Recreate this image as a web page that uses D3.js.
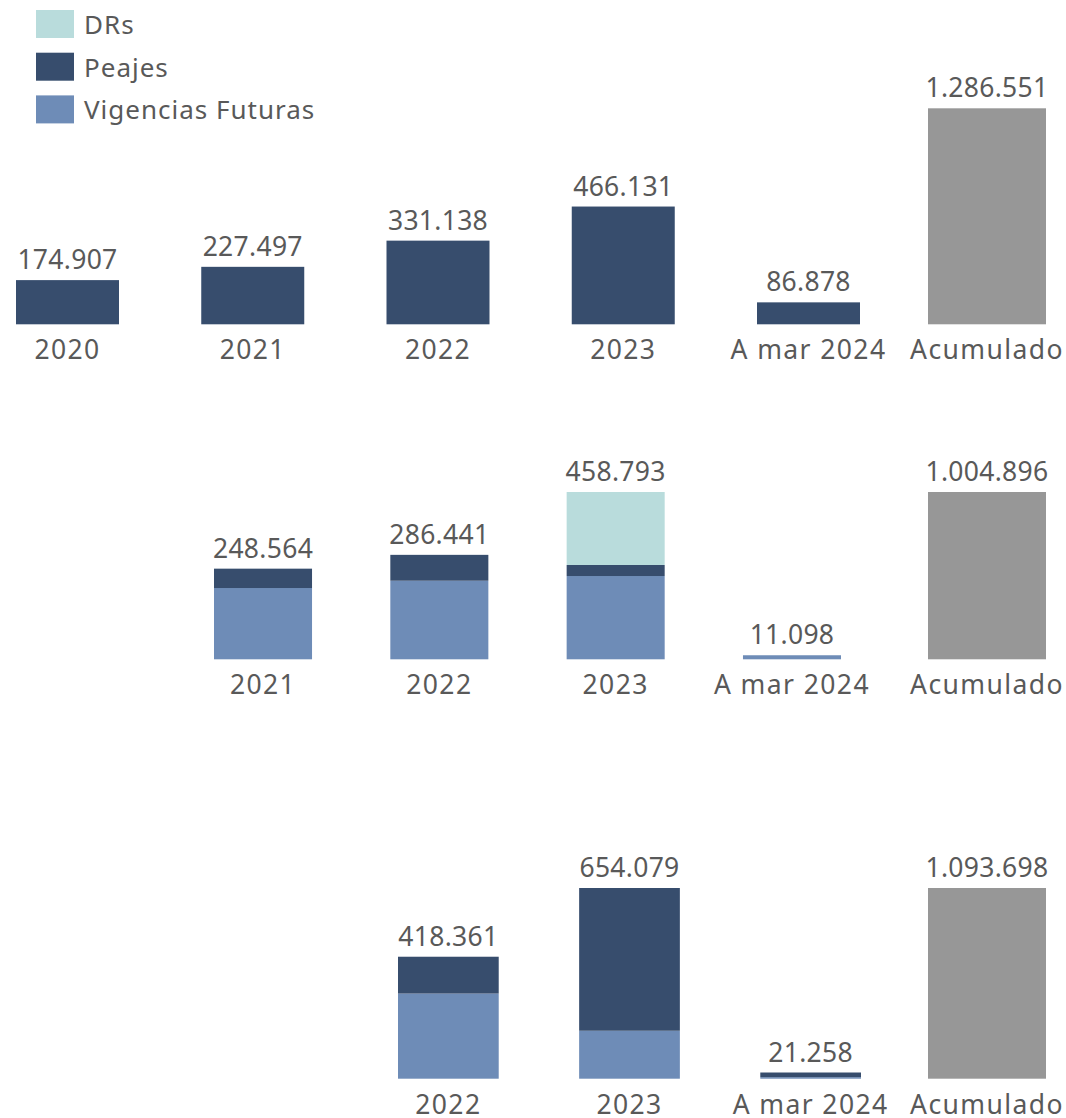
<!DOCTYPE html>
<html>
<head>
<meta charset="utf-8">
<script src="https://cdn.jsdelivr.net/npm/d3@7"></script>
<style>
  body { margin: 0; background: #fff; }
  svg text { font-family: "Noto Sans", "Open Sans", sans-serif; fill: #595959; }
</style>
</head>
<body>
<div id="chart"></div>
<script>
// Series names + colours
const seriesKeys = ['drs', 'peajes', 'vf'];
const seriesNames = ['DRs', 'Peajes', 'Vigencias Futuras'];
const seriesColors = { drs: '#b9dcdc', peajes: '#374d6d', vf: '#6e8cb7' };
const accColor = '#979797';

// Panel 1 (only peajes)
const p1Cats = ['2020', '2021', '2022', '2023', 'A mar 2024'];
const p1Peajes = [174907, 227497, 331138, 466131, 86878];
const p1Acum = 1286551;

// Panel 2
const p2Cats = ['2021', '2022', '2023', 'A mar 2024'];
const p2VF = [195500, 215500, 228400, 11098];
const p2Peajes = [53064, 70941, 30200, 0];
const p2DRs = [0, 0, 200193, 0];
const p2Acum = 1004896;

// Panel 3
const p3Cats = ['2022', '2023', 'A mar 2024'];
const p3VF = [292000, 164500, 5300];
const p3Peajes = [126361, 489579, 15958];
const p3Acum = 1093698;

const accLabel = 'Acumulado';

const W = 1066, H = 1118;
const fmt = d3.formatLocale({ decimal: ',', thousands: '.', grouping: [3], currency: ['$', ''] }).format(',d');

const svg = d3.select('#chart').append('svg')
    .attr('width', W)
    .attr('height', H);

// legend
const legend = svg.append('g').attr('transform', 'translate(36,10)');
seriesKeys.forEach((k, i) => {
    const g = legend.append('g').attr('transform', `translate(0,${i * 42.7})`);
    g.append('rect').attr('width', 38).attr('height', 28).attr('fill', seriesColors[k]);
    g.append('text').attr('x', 48).attr('y', 24)
        .style('font-size', '26px')
        .style('letter-spacing', '1px')
        .text(seriesNames[i]);
});

const panels = [
    { cats: p1Cats, rows: p1Cats.map((c, i) => ({ cat: c, vf: 0, peajes: p1Peajes[i], drs: 0 })),
      acum: p1Acum, yMax: 855000, base: 324.3, h: 216, x0: 16, x1: 860 },
    { cats: p2Cats, rows: p2Cats.map((c, i) => ({ cat: c, vf: p2VF[i], peajes: p2Peajes[i], drs: p2DRs[i] })),
      acum: p2Acum, yMax: 458793, base: 659.3, h: 167.3, x0: 214, x1: 841 },
    { cats: p3Cats, rows: p3Cats.map((c, i) => ({ cat: c, vf: p3VF[i], peajes: p3Peajes[i], drs: 0 })),
      acum: p3Acum, yMax: 654079, base: 1078.7, h: 190.7, x0: 398, x1: 861 }
];

const stack = d3.stack().keys(['vf', 'peajes', 'drs']);

panels.forEach(p => {
    const g = svg.append('g');

    const x = d3.scaleBand().domain(p.cats).range([p.x0, p.x1])
        .paddingInner(0.444).paddingOuter(0);
    const xAcc = d3.scaleBand().domain([accLabel]).range([928, 1046]);

    const y = d3.scaleLinear().domain([0, p.yMax]).range([p.base, p.base - p.h]);
    const yAcc = d3.scaleLinear().domain([0, p.acum]).range([p.base, p.base - p.h]);

    const layers = stack(p.rows);
    g.selectAll('g.layer')
        .data(layers)
        .join('g')
        .attr('class', 'layer')
        .attr('fill', d => seriesColors[d.key])
        .selectAll('rect')
        .data(d => d.filter(s => s[1] > s[0]))
        .join('rect')
        .attr('x', d => x(d.data.cat))
        .attr('width', x.bandwidth())
        .attr('y', d => y(d[1]))
        .attr('height', d => y(d[0]) - y(d[1]));

    // totals
    g.selectAll('text.val')
        .data(p.rows)
        .join('text')
        .attr('class', 'val')
        .attr('x', d => x(d.cat) + x.bandwidth() / 2)
        .attr('y', d => y(d.vf + d.peajes + d.drs) - 11)
        .attr('text-anchor', 'middle')
        .style('font-size', '26.5px')
        .style('letter-spacing', '0.3px')
        .text(d => fmt(d.vf + d.peajes + d.drs));

    // category labels
    g.selectAll('text.cat')
        .data(p.cats)
        .join('text')
        .attr('class', 'cat')
        .attr('x', d => x(d) + x.bandwidth() / 2)
        .attr('y', p.base + 35)
        .attr('text-anchor', 'middle')
        .style('font-size', '26.5px')
        .style('letter-spacing', '1.4px')
        .text(d => d);

    // accumulated bar
    g.append('rect')
        .attr('x', xAcc(accLabel))
        .attr('width', xAcc.bandwidth())
        .attr('y', yAcc(p.acum))
        .attr('height', yAcc(0) - yAcc(p.acum))
        .attr('fill', accColor);
    g.append('text')
        .attr('x', xAcc(accLabel) + xAcc.bandwidth() / 2)
        .attr('y', yAcc(p.acum) - 11)
        .attr('text-anchor', 'middle')
        .style('font-size', '26.5px')
        .style('letter-spacing', '0.3px')
        .text(fmt(p.acum));
    g.append('text')
        .attr('x', xAcc(accLabel) + xAcc.bandwidth() / 2)
        .attr('y', p.base + 35)
        .attr('text-anchor', 'middle')
        .style('font-size', '26.5px')
        .style('letter-spacing', '1.4px')
        .text(accLabel);
});
</script>
</body>
</html>
